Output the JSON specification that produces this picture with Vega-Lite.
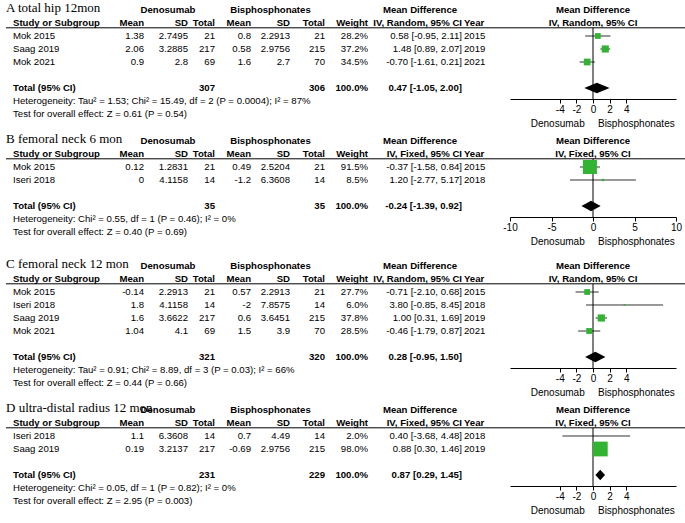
{
"$schema":"https://vega.github.io/schema/vega-lite/v6.json",
"padding":{"left":5,"top":0,"right":0,"bottom":0},
"background":"white",
"spacing":0,
"config":{"view":{"stroke":null},"text":{"font":"Liberation Sans","fontSize":9.6,"align":"right","baseline":"middle","fill":"black"},"rule":{"color":"black"},"area":{"color":"black"}},
"datasets":{
"A":[
{"r":0,"k":"t","study":"A total hip 12mon","dsd":"Denosumab","bsd":"Bisphosphonates","ci":"Mean Difference"},
{"r":1,"k":"h","study":"Study or Subgroup","dm":"Mean","dsd":"SD","dn":"Total","bm":"Mean","bsd":"SD","bn":"Total","w":"Weight","ci":"IV, Random, 95% CI","yr":"Year"},
{"r":2,"k":"s","study":"Mok 2015","dm":"1.38","dsd":"2.7495","dn":"21","bm":"0.8","bsd":"2.2913","bn":"21","w":"28.2%","ci":"0.58 [-0.95, 2.11]","yr":"2015","md":0.58,"lo":-0.95,"hi":2.11,"wt":28.2},
{"r":3,"k":"s","study":"Saag 2019","dm":"2.06","dsd":"3.2885","dn":"217","bm":"0.58","bsd":"2.9756","bn":"215","w":"37.2%","ci":"1.48 [0.89, 2.07]","yr":"2019","md":1.48,"lo":0.89,"hi":2.07,"wt":37.2},
{"r":4,"k":"s","study":"Mok 2021","dm":"0.9","dsd":"2.8","dn":"69","bm":"1.6","bsd":"2.7","bn":"70","w":"34.5%","ci":"-0.70 [-1.61, 0.21]","yr":"2021","md":-0.70,"lo":-1.61,"hi":0.21,"wt":34.5},
{"r":6,"k":"T","study":"Total (95% CI)","dn":"307","bn":"306","w":"100.0%","ci":"0.47 [-1.05, 2.00]","md":0.47,"lo":-1.05,"hi":2.00},
{"r":7,"k":"n","study":"Heterogeneity: Tau² = 1.53; Chi² = 15.49, df = 2 (P = 0.0004); I² = 87%"},
{"r":8,"k":"n","study":"Test for overall effect: Z = 0.61 (P = 0.54)"}
],
"B":[
{"r":0,"k":"t","study":"B femoral neck 6 mon","dsd":"Denosumab","bsd":"Bisphosphonates","ci":"Mean Difference"},
{"r":1,"k":"h","study":"Study or Subgroup","dm":"Mean","dsd":"SD","dn":"Total","bm":"Mean","bsd":"SD","bn":"Total","w":"Weight","ci":"IV, Fixed, 95% CI","yr":"Year"},
{"r":2,"k":"s","study":"Mok 2015","dm":"0.12","dsd":"1.2831","dn":"21","bm":"0.49","bsd":"2.5204","bn":"21","w":"91.5%","ci":"-0.37 [-1.58, 0.84]","yr":"2015","md":-0.37,"lo":-1.58,"hi":0.84,"wt":91.5},
{"r":3,"k":"s","study":"Iseri 2018","dm":"0","dsd":"4.1158","dn":"14","bm":"-1.2","bsd":"6.3608","bn":"14","w":"8.5%","ci":"1.20 [-2.77, 5.17]","yr":"2018","md":1.20,"lo":-2.77,"hi":5.17,"wt":8.5},
{"r":5,"k":"T","study":"Total (95% CI)","dn":"35","bn":"35","w":"100.0%","ci":"-0.24 [-1.39, 0.92]","md":-0.24,"lo":-1.39,"hi":0.92},
{"r":6,"k":"n","study":"Heterogeneity: Chi² = 0.55, df = 1 (P = 0.46); I² = 0%"},
{"r":7,"k":"n","study":"Test for overall effect: Z = 0.40 (P = 0.69)"}
],
"C":[
{"r":0,"k":"t","study":"C femoral neck 12 mon","dsd":"Denosumab","bsd":"Bisphosphonates","ci":"Mean Difference"},
{"r":1,"k":"h","study":"Study or Subgroup","dm":"Mean","dsd":"SD","dn":"Total","bm":"Mean","bsd":"SD","bn":"Total","w":"Weight","ci":"IV, Random, 95% CI","yr":"Year"},
{"r":2,"k":"s","study":"Mok 2015","dm":"-0.14","dsd":"2.2913","dn":"21","bm":"0.57","bsd":"2.2913","bn":"21","w":"27.7%","ci":"-0.71 [-2.10, 0.68]","yr":"2015","md":-0.71,"lo":-2.10,"hi":0.68,"wt":27.7},
{"r":3,"k":"s","study":"Iseri 2018","dm":"1.8","dsd":"4.1158","dn":"14","bm":"-2","bsd":"7.8575","bn":"14","w":"6.0%","ci":"3.80 [-0.85, 8.45]","yr":"2018","md":3.80,"lo":-0.85,"hi":8.45,"wt":6.0},
{"r":4,"k":"s","study":"Saag 2019","dm":"1.6","dsd":"3.6622","dn":"217","bm":"0.6","bsd":"3.6451","bn":"215","w":"37.8%","ci":"1.00 [0.31, 1.69]","yr":"2019","md":1.00,"lo":0.31,"hi":1.69,"wt":37.8},
{"r":5,"k":"s","study":"Mok 2021","dm":"1.04","dsd":"4.1","dn":"69","bm":"1.5","bsd":"3.9","bn":"70","w":"28.5%","ci":"-0.46 [-1.79, 0.87]","yr":"2021","md":-0.46,"lo":-1.79,"hi":0.87,"wt":28.5},
{"r":7,"k":"T","study":"Total (95% CI)","dn":"321","bn":"320","w":"100.0%","ci":"0.28 [-0.95, 1.50]","md":0.28,"lo":-0.95,"hi":1.50},
{"r":8,"k":"n","study":"Heterogeneity: Tau² = 0.91; Chi² = 8.89, df = 3 (P = 0.03); I² = 66%"},
{"r":9,"k":"n","study":"Test for overall effect: Z = 0.44 (P = 0.66)"}
],
"D":[
{"r":0,"k":"t","study":"D ultra-distal radius 12 mon","dsd":"Denosumab","bsd":"Bisphosphonates","ci":"Mean Difference"},
{"r":1,"k":"h","study":"Study or Subgroup","dm":"Mean","dsd":"SD","dn":"Total","bm":"Mean","bsd":"SD","bn":"Total","w":"Weight","ci":"IV, Fixed, 95% CI","yr":"Year"},
{"r":2,"k":"s","study":"Iseri 2018","dm":"1.1","dsd":"6.3608","dn":"14","bm":"0.7","bsd":"4.49","bn":"14","w":"2.0%","ci":"0.40 [-3.68, 4.48]","yr":"2018","md":0.40,"lo":-3.68,"hi":4.48,"wt":2.0},
{"r":3,"k":"s","study":"Saag 2019","dm":"0.19","dsd":"3.2137","dn":"217","bm":"-0.69","bsd":"2.9756","bn":"215","w":"98.0%","ci":"0.88 [0.30, 1.46]","yr":"2019","md":0.88,"lo":0.30,"hi":1.46,"wt":98.0},
{"r":5,"k":"T","study":"Total (95% CI)","dn":"231","bn":"229","w":"100.0%","ci":"0.87 [0.29, 1.45]","md":0.87,"lo":0.29,"hi":1.45},
{"r":6,"k":"n","study":"Heterogeneity: Chi² = 0.05, df = 1 (P = 0.82); I² = 0%"},
{"r":7,"k":"n","study":"Test for overall effect: Z = 2.95 (P = 0.003)"}
]
},
"vconcat":[
{"data":{"name":"A"},"spacing":0,"bounds":"flush","hconcat":[
{"width":107,"height":131,"encoding":{"x":{"datum":0,"type":"quantitative","scale":{"domain":[0,1]},"axis":null},"y":{"field":"r","type":"quantitative","scale":{"domain":[-0.769,9.308],"reverse":true},"axis":null},"text":{"field":"study","type":"nominal"}},"layer":[
{"transform":[{"filter":"datum.k=='s'||datum.k=='n'"}],"mark":{"type":"text","align":"left","dx":7}},
{"transform":[{"filter":"datum.k=='h'||datum.k=='T'"}],"mark":{"type":"text","align":"left","dx":7,"fontWeight":"bold"}},
{"transform":[{"filter":"datum.k=='t'"}],"mark":{"type":"text","align":"left","font":"Liberation Serif","fontSize":13,"dy":-2}},
{"transform":[{"filter":"datum.k=='h'"}],"mark":"rule","encoding":{"x":{"datum":0,"axis":null},"x2":{"datum":1},"y":{"datum":1.37,"axis":null}}}]},
{"width":31,"height":131,"encoding":{"x":{"datum":1,"type":"quantitative","scale":{"domain":[0,1]},"axis":null},"y":{"field":"r","type":"quantitative","scale":{"domain":[-0.769,9.308],"reverse":true},"axis":null},"text":{"field":"dm","type":"nominal"}},"layer":[
{"transform":[{"filter":"datum.k=='s'"}],"mark":"text"},
{"transform":[{"filter":"datum.k=='h'"}],"mark":{"type":"text","fontWeight":"bold"}},
{"transform":[{"filter":"datum.k=='h'"}],"mark":"rule","encoding":{"x":{"datum":0,"axis":null},"x2":{"datum":1},"y":{"datum":1.37,"axis":null}}}]},
{"width":44,"height":131,"encoding":{"x":{"datum":1,"type":"quantitative","scale":{"domain":[0,1]},"axis":null},"y":{"field":"r","type":"quantitative","scale":{"domain":[-0.769,9.308],"reverse":true},"axis":null},"text":{"field":"dsd","type":"nominal"}},"layer":[
{"transform":[{"filter":"datum.k=='s'"}],"mark":"text"},
{"transform":[{"filter":"datum.k=='h'"}],"mark":{"type":"text","fontWeight":"bold"}},
{"transform":[{"filter":"datum.k=='t'"}],"mark":{"type":"text","fontWeight":"bold","align":"center","dx":2},"encoding":{"x":{"datum":0.5,"axis":null}}},
{"transform":[{"filter":"datum.k=='h'"}],"mark":"rule","encoding":{"x":{"datum":0,"axis":null},"x2":{"datum":1},"y":{"datum":1.37,"axis":null}}}]},
{"width":27,"height":131,"encoding":{"x":{"datum":1,"type":"quantitative","scale":{"domain":[0,1]},"axis":null},"y":{"field":"r","type":"quantitative","scale":{"domain":[-0.769,9.308],"reverse":true},"axis":null},"text":{"field":"dn","type":"nominal"}},"layer":[
{"transform":[{"filter":"datum.k=='s'"}],"mark":"text"},
{"transform":[{"filter":"datum.k=='h'||datum.k=='T'"}],"mark":{"type":"text","fontWeight":"bold"}},
{"transform":[{"filter":"datum.k=='h'"}],"mark":"rule","encoding":{"x":{"datum":0,"axis":null},"x2":{"datum":1},"y":{"datum":1.37,"axis":null}}}]},
{"width":36,"height":131,"encoding":{"x":{"datum":1,"type":"quantitative","scale":{"domain":[0,1]},"axis":null},"y":{"field":"r","type":"quantitative","scale":{"domain":[-0.769,9.308],"reverse":true},"axis":null},"text":{"field":"bm","type":"nominal"}},"layer":[
{"transform":[{"filter":"datum.k=='s'"}],"mark":"text"},
{"transform":[{"filter":"datum.k=='h'"}],"mark":{"type":"text","fontWeight":"bold"}},
{"transform":[{"filter":"datum.k=='h'"}],"mark":"rule","encoding":{"x":{"datum":0,"axis":null},"x2":{"datum":1},"y":{"datum":1.37,"axis":null}}}]},
{"width":39,"height":131,"encoding":{"x":{"datum":1,"type":"quantitative","scale":{"domain":[0,1]},"axis":null},"y":{"field":"r","type":"quantitative","scale":{"domain":[-0.769,9.308],"reverse":true},"axis":null},"text":{"field":"bsd","type":"nominal"}},"layer":[
{"transform":[{"filter":"datum.k=='s'"}],"mark":"text"},
{"transform":[{"filter":"datum.k=='h'"}],"mark":{"type":"text","fontWeight":"bold"}},
{"transform":[{"filter":"datum.k=='t'"}],"mark":{"type":"text","fontWeight":"bold","align":"center"},"encoding":{"x":{"datum":0.5,"axis":null}}},
{"transform":[{"filter":"datum.k=='h'"}],"mark":"rule","encoding":{"x":{"datum":0,"axis":null},"x2":{"datum":1},"y":{"datum":1.37,"axis":null}}}]},
{"width":35,"height":131,"encoding":{"x":{"datum":1,"type":"quantitative","scale":{"domain":[0,1]},"axis":null},"y":{"field":"r","type":"quantitative","scale":{"domain":[-0.769,9.308],"reverse":true},"axis":null},"text":{"field":"bn","type":"nominal"}},"layer":[
{"transform":[{"filter":"datum.k=='s'"}],"mark":"text"},
{"transform":[{"filter":"datum.k=='h'||datum.k=='T'"}],"mark":{"type":"text","fontWeight":"bold"}},
{"transform":[{"filter":"datum.k=='h'"}],"mark":"rule","encoding":{"x":{"datum":0,"axis":null},"x2":{"datum":1},"y":{"datum":1.37,"axis":null}}}]},
{"width":43,"height":131,"encoding":{"x":{"datum":1,"type":"quantitative","scale":{"domain":[0,1]},"axis":null},"y":{"field":"r","type":"quantitative","scale":{"domain":[-0.769,9.308],"reverse":true},"axis":null},"text":{"field":"w","type":"nominal"}},"layer":[
{"transform":[{"filter":"datum.k=='s'"}],"mark":"text"},
{"transform":[{"filter":"datum.k=='h'||datum.k=='T'"}],"mark":{"type":"text","fontWeight":"bold"}},
{"transform":[{"filter":"datum.k=='h'"}],"mark":"rule","encoding":{"x":{"datum":0,"axis":null},"x2":{"datum":1},"y":{"datum":1.37,"axis":null}}}]},
{"width":94,"height":131,"encoding":{"x":{"datum":1,"type":"quantitative","scale":{"domain":[0,1]},"axis":null},"y":{"field":"r","type":"quantitative","scale":{"domain":[-0.769,9.308],"reverse":true},"axis":null},"text":{"field":"ci","type":"nominal"}},"layer":[
{"transform":[{"filter":"datum.k=='s'"}],"mark":"text"},
{"transform":[{"filter":"datum.k=='h'||datum.k=='T'"}],"mark":{"type":"text","fontWeight":"bold"}},
{"transform":[{"filter":"datum.k=='t'"}],"mark":{"type":"text","fontWeight":"bold","align":"center","dx":5},"encoding":{"x":{"datum":0.5,"axis":null}}},
{"transform":[{"filter":"datum.k=='h'"}],"mark":"rule","encoding":{"x":{"datum":0,"axis":null},"x2":{"datum":1},"y":{"datum":1.37,"axis":null}}}]},
{"width":48,"height":131,"encoding":{"x":{"datum":0,"type":"quantitative","scale":{"domain":[0,1]},"axis":null},"y":{"field":"r","type":"quantitative","scale":{"domain":[-0.769,9.308],"reverse":true},"axis":null},"text":{"field":"yr","type":"nominal"}},"layer":[
{"transform":[{"filter":"datum.k=='s'"}],"mark":{"type":"text","align":"left","dx":2}},
{"transform":[{"filter":"datum.k=='h'"}],"mark":{"type":"text","align":"left","dx":2,"fontWeight":"bold"}},
{"transform":[{"filter":"datum.k=='h'"}],"mark":"rule","encoding":{"x":{"datum":0,"axis":null},"x2":{"datum":1},"y":{"datum":1.37,"axis":null}}}]},
{"width":166,"height":99,"encoding":{"y":{"field":"r","type":"quantitative","scale":{"domain":[-0.769,6.846],"reverse":true},"axis":null}},"layer":[
{"transform":[{"filter":"datum.k=='s'"}],"mark":{"type":"rule","color":"#333"},"encoding":{"x":{"field":"lo","type":"quantitative","scale":{"domain":[-10,10],"nice":false,"zero":false},"axis":{"values":[-4,-2,0,2,4],"labelExpr":"replace(datum.label,'\u2212','-')","title":null,"grid":false,"domainColor":"black","tickColor":"black","labelColor":"black","labelFont":"Liberation Sans","labelFontSize":10,"tickSize":4,"labelPadding":1,"labelFlush":false}},"x2":{"field":"hi"}}},
{"transform":[{"filter":"datum.k=='h'"}],"mark":"rule","encoding":{"x":{"datum":-10},"x2":{"datum":11.2},"y":{"datum":1.37,"axis":null}}},
{"transform":[{"filter":"datum.k=='h'"}],"mark":"rule","encoding":{"x":{"datum":0},"y":{"datum":1.37,"axis":null},"y2":{"datum":6.846}}},
{"transform":[{"filter":"datum.k=='s'"}],"mark":{"type":"point","shape":"square","filled":true,"opacity":1,"color":"#32b432"},"encoding":{"x":{"field":"md","type":"quantitative"},"size":{"field":"wt","type":"quantitative","scale":{"type":"pow","exponent":1.5,"domain":[0,100],"range":[0,225]},"legend":null}}},
{"transform":[{"filter":"datum.k=='T'"},{"fold":["lo","md","hi"],"as":["key","val"]},{"calculate":"datum.key=='md'?0.4:0","as":"h"},{"calculate":"datum.r-datum.h","as":"ya"},{"calculate":"datum.r+datum.h","as":"yb"}],"mark":{"type":"area","color":"black"},"encoding":{"x":{"field":"val","type":"quantitative"},"y":{"field":"ya","type":"quantitative","axis":null},"y2":{"field":"yb"}}},
{"transform":[{"filter":"datum.k=='t'||datum.k=='h'"}],"mark":{"type":"text","fontWeight":"bold","align":"center"},"encoding":{"x":{"datum":0},"text":{"field":"ci","type":"nominal"}}},
{"transform":[{"filter":"datum.k=='h'"}],"mark":{"type":"text","text":"Denosumab","fontSize":10},"encoding":{"x":{"datum":-1},"y":{"datum":8.77,"axis":null}}},
{"transform":[{"filter":"datum.k=='h'"}],"mark":{"type":"text","text":"Bisphosphonates","align":"left","fontSize":10},"encoding":{"x":{"datum":0.6},"y":{"datum":8.77,"axis":null}}}]}
]},
{"data":{"name":"B"},"spacing":0,"bounds":"flush","hconcat":[
{"width":107,"height":125,"encoding":{"x":{"datum":0,"type":"quantitative","scale":{"domain":[0,1]},"axis":null},"y":{"field":"r","type":"quantitative","scale":{"domain":[-0.769,8.846],"reverse":true},"axis":null},"text":{"field":"study","type":"nominal"}},"layer":[
{"transform":[{"filter":"datum.k=='s'||datum.k=='n'"}],"mark":{"type":"text","align":"left","dx":7}},
{"transform":[{"filter":"datum.k=='h'||datum.k=='T'"}],"mark":{"type":"text","align":"left","dx":7,"fontWeight":"bold"}},
{"transform":[{"filter":"datum.k=='t'"}],"mark":{"type":"text","align":"left","font":"Liberation Serif","fontSize":13,"dy":-2}},
{"transform":[{"filter":"datum.k=='h'"}],"mark":"rule","encoding":{"x":{"datum":0,"axis":null},"x2":{"datum":1},"y":{"datum":1.37,"axis":null}}}]},
{"width":31,"height":125,"encoding":{"x":{"datum":1,"type":"quantitative","scale":{"domain":[0,1]},"axis":null},"y":{"field":"r","type":"quantitative","scale":{"domain":[-0.769,8.846],"reverse":true},"axis":null},"text":{"field":"dm","type":"nominal"}},"layer":[
{"transform":[{"filter":"datum.k=='s'"}],"mark":"text"},
{"transform":[{"filter":"datum.k=='h'"}],"mark":{"type":"text","fontWeight":"bold"}},
{"transform":[{"filter":"datum.k=='h'"}],"mark":"rule","encoding":{"x":{"datum":0,"axis":null},"x2":{"datum":1},"y":{"datum":1.37,"axis":null}}}]},
{"width":44,"height":125,"encoding":{"x":{"datum":1,"type":"quantitative","scale":{"domain":[0,1]},"axis":null},"y":{"field":"r","type":"quantitative","scale":{"domain":[-0.769,8.846],"reverse":true},"axis":null},"text":{"field":"dsd","type":"nominal"}},"layer":[
{"transform":[{"filter":"datum.k=='s'"}],"mark":"text"},
{"transform":[{"filter":"datum.k=='h'"}],"mark":{"type":"text","fontWeight":"bold"}},
{"transform":[{"filter":"datum.k=='t'"}],"mark":{"type":"text","fontWeight":"bold","align":"center","dx":2},"encoding":{"x":{"datum":0.5,"axis":null}}},
{"transform":[{"filter":"datum.k=='h'"}],"mark":"rule","encoding":{"x":{"datum":0,"axis":null},"x2":{"datum":1},"y":{"datum":1.37,"axis":null}}}]},
{"width":27,"height":125,"encoding":{"x":{"datum":1,"type":"quantitative","scale":{"domain":[0,1]},"axis":null},"y":{"field":"r","type":"quantitative","scale":{"domain":[-0.769,8.846],"reverse":true},"axis":null},"text":{"field":"dn","type":"nominal"}},"layer":[
{"transform":[{"filter":"datum.k=='s'"}],"mark":"text"},
{"transform":[{"filter":"datum.k=='h'||datum.k=='T'"}],"mark":{"type":"text","fontWeight":"bold"}},
{"transform":[{"filter":"datum.k=='h'"}],"mark":"rule","encoding":{"x":{"datum":0,"axis":null},"x2":{"datum":1},"y":{"datum":1.37,"axis":null}}}]},
{"width":36,"height":125,"encoding":{"x":{"datum":1,"type":"quantitative","scale":{"domain":[0,1]},"axis":null},"y":{"field":"r","type":"quantitative","scale":{"domain":[-0.769,8.846],"reverse":true},"axis":null},"text":{"field":"bm","type":"nominal"}},"layer":[
{"transform":[{"filter":"datum.k=='s'"}],"mark":"text"},
{"transform":[{"filter":"datum.k=='h'"}],"mark":{"type":"text","fontWeight":"bold"}},
{"transform":[{"filter":"datum.k=='h'"}],"mark":"rule","encoding":{"x":{"datum":0,"axis":null},"x2":{"datum":1},"y":{"datum":1.37,"axis":null}}}]},
{"width":39,"height":125,"encoding":{"x":{"datum":1,"type":"quantitative","scale":{"domain":[0,1]},"axis":null},"y":{"field":"r","type":"quantitative","scale":{"domain":[-0.769,8.846],"reverse":true},"axis":null},"text":{"field":"bsd","type":"nominal"}},"layer":[
{"transform":[{"filter":"datum.k=='s'"}],"mark":"text"},
{"transform":[{"filter":"datum.k=='h'"}],"mark":{"type":"text","fontWeight":"bold"}},
{"transform":[{"filter":"datum.k=='t'"}],"mark":{"type":"text","fontWeight":"bold","align":"center"},"encoding":{"x":{"datum":0.5,"axis":null}}},
{"transform":[{"filter":"datum.k=='h'"}],"mark":"rule","encoding":{"x":{"datum":0,"axis":null},"x2":{"datum":1},"y":{"datum":1.37,"axis":null}}}]},
{"width":35,"height":125,"encoding":{"x":{"datum":1,"type":"quantitative","scale":{"domain":[0,1]},"axis":null},"y":{"field":"r","type":"quantitative","scale":{"domain":[-0.769,8.846],"reverse":true},"axis":null},"text":{"field":"bn","type":"nominal"}},"layer":[
{"transform":[{"filter":"datum.k=='s'"}],"mark":"text"},
{"transform":[{"filter":"datum.k=='h'||datum.k=='T'"}],"mark":{"type":"text","fontWeight":"bold"}},
{"transform":[{"filter":"datum.k=='h'"}],"mark":"rule","encoding":{"x":{"datum":0,"axis":null},"x2":{"datum":1},"y":{"datum":1.37,"axis":null}}}]},
{"width":43,"height":125,"encoding":{"x":{"datum":1,"type":"quantitative","scale":{"domain":[0,1]},"axis":null},"y":{"field":"r","type":"quantitative","scale":{"domain":[-0.769,8.846],"reverse":true},"axis":null},"text":{"field":"w","type":"nominal"}},"layer":[
{"transform":[{"filter":"datum.k=='s'"}],"mark":"text"},
{"transform":[{"filter":"datum.k=='h'||datum.k=='T'"}],"mark":{"type":"text","fontWeight":"bold"}},
{"transform":[{"filter":"datum.k=='h'"}],"mark":"rule","encoding":{"x":{"datum":0,"axis":null},"x2":{"datum":1},"y":{"datum":1.37,"axis":null}}}]},
{"width":94,"height":125,"encoding":{"x":{"datum":1,"type":"quantitative","scale":{"domain":[0,1]},"axis":null},"y":{"field":"r","type":"quantitative","scale":{"domain":[-0.769,8.846],"reverse":true},"axis":null},"text":{"field":"ci","type":"nominal"}},"layer":[
{"transform":[{"filter":"datum.k=='s'"}],"mark":"text"},
{"transform":[{"filter":"datum.k=='h'||datum.k=='T'"}],"mark":{"type":"text","fontWeight":"bold"}},
{"transform":[{"filter":"datum.k=='t'"}],"mark":{"type":"text","fontWeight":"bold","align":"center","dx":5},"encoding":{"x":{"datum":0.5,"axis":null}}},
{"transform":[{"filter":"datum.k=='h'"}],"mark":"rule","encoding":{"x":{"datum":0,"axis":null},"x2":{"datum":1},"y":{"datum":1.37,"axis":null}}}]},
{"width":48,"height":125,"encoding":{"x":{"datum":0,"type":"quantitative","scale":{"domain":[0,1]},"axis":null},"y":{"field":"r","type":"quantitative","scale":{"domain":[-0.769,8.846],"reverse":true},"axis":null},"text":{"field":"yr","type":"nominal"}},"layer":[
{"transform":[{"filter":"datum.k=='s'"}],"mark":{"type":"text","align":"left","dx":2}},
{"transform":[{"filter":"datum.k=='h'"}],"mark":{"type":"text","align":"left","dx":2,"fontWeight":"bold"}},
{"transform":[{"filter":"datum.k=='h'"}],"mark":"rule","encoding":{"x":{"datum":0,"axis":null},"x2":{"datum":1},"y":{"datum":1.37,"axis":null}}}]},
{"width":166,"height":86,"encoding":{"y":{"field":"r","type":"quantitative","scale":{"domain":[-0.769,5.846],"reverse":true},"axis":null}},"layer":[
{"transform":[{"filter":"datum.k=='s'"}],"mark":{"type":"rule","color":"#333"},"encoding":{"x":{"field":"lo","type":"quantitative","scale":{"domain":[-10,10],"nice":false,"zero":false},"axis":{"values":[-10,-5,0,5,10],"labelExpr":"replace(datum.label,'\u2212','-')","title":null,"grid":false,"domainColor":"black","tickColor":"black","labelColor":"black","labelFont":"Liberation Sans","labelFontSize":10,"tickSize":4,"labelPadding":1,"labelFlush":false}},"x2":{"field":"hi"}}},
{"transform":[{"filter":"datum.k=='h'"}],"mark":"rule","encoding":{"x":{"datum":-10},"x2":{"datum":11.2},"y":{"datum":1.37,"axis":null}}},
{"transform":[{"filter":"datum.k=='h'"}],"mark":"rule","encoding":{"x":{"datum":0},"y":{"datum":1.37,"axis":null},"y2":{"datum":5.846}}},
{"transform":[{"filter":"datum.k=='s'"}],"mark":{"type":"point","shape":"square","filled":true,"opacity":1,"color":"#32b432"},"encoding":{"x":{"field":"md","type":"quantitative"},"size":{"field":"wt","type":"quantitative","scale":{"type":"pow","exponent":1.5,"domain":[0,100],"range":[0,225]},"legend":null}}},
{"transform":[{"filter":"datum.k=='T'"},{"fold":["lo","md","hi"],"as":["key","val"]},{"calculate":"datum.key=='md'?0.4:0","as":"h"},{"calculate":"datum.r-datum.h","as":"ya"},{"calculate":"datum.r+datum.h","as":"yb"}],"mark":{"type":"area","color":"black"},"encoding":{"x":{"field":"val","type":"quantitative"},"y":{"field":"ya","type":"quantitative","axis":null},"y2":{"field":"yb"}}},
{"transform":[{"filter":"datum.k=='t'||datum.k=='h'"}],"mark":{"type":"text","fontWeight":"bold","align":"center"},"encoding":{"x":{"datum":0},"text":{"field":"ci","type":"nominal"}}},
{"transform":[{"filter":"datum.k=='h'"}],"mark":{"type":"text","text":"Denosumab","fontSize":10},"encoding":{"x":{"datum":-1},"y":{"datum":7.77,"axis":null}}},
{"transform":[{"filter":"datum.k=='h'"}],"mark":{"type":"text","text":"Bisphosphonates","align":"left","fontSize":10},"encoding":{"x":{"datum":0.6},"y":{"datum":7.77,"axis":null}}}]}
]},
{"data":{"name":"C"},"spacing":0,"bounds":"flush","hconcat":[
{"width":107,"height":144,"encoding":{"x":{"datum":0,"type":"quantitative","scale":{"domain":[0,1]},"axis":null},"y":{"field":"r","type":"quantitative","scale":{"domain":[-0.769,10.308],"reverse":true},"axis":null},"text":{"field":"study","type":"nominal"}},"layer":[
{"transform":[{"filter":"datum.k=='s'||datum.k=='n'"}],"mark":{"type":"text","align":"left","dx":7}},
{"transform":[{"filter":"datum.k=='h'||datum.k=='T'"}],"mark":{"type":"text","align":"left","dx":7,"fontWeight":"bold"}},
{"transform":[{"filter":"datum.k=='t'"}],"mark":{"type":"text","align":"left","font":"Liberation Serif","fontSize":13,"dy":-2}},
{"transform":[{"filter":"datum.k=='h'"}],"mark":"rule","encoding":{"x":{"datum":0,"axis":null},"x2":{"datum":1},"y":{"datum":1.37,"axis":null}}}]},
{"width":31,"height":144,"encoding":{"x":{"datum":1,"type":"quantitative","scale":{"domain":[0,1]},"axis":null},"y":{"field":"r","type":"quantitative","scale":{"domain":[-0.769,10.308],"reverse":true},"axis":null},"text":{"field":"dm","type":"nominal"}},"layer":[
{"transform":[{"filter":"datum.k=='s'"}],"mark":"text"},
{"transform":[{"filter":"datum.k=='h'"}],"mark":{"type":"text","fontWeight":"bold"}},
{"transform":[{"filter":"datum.k=='h'"}],"mark":"rule","encoding":{"x":{"datum":0,"axis":null},"x2":{"datum":1},"y":{"datum":1.37,"axis":null}}}]},
{"width":44,"height":144,"encoding":{"x":{"datum":1,"type":"quantitative","scale":{"domain":[0,1]},"axis":null},"y":{"field":"r","type":"quantitative","scale":{"domain":[-0.769,10.308],"reverse":true},"axis":null},"text":{"field":"dsd","type":"nominal"}},"layer":[
{"transform":[{"filter":"datum.k=='s'"}],"mark":"text"},
{"transform":[{"filter":"datum.k=='h'"}],"mark":{"type":"text","fontWeight":"bold"}},
{"transform":[{"filter":"datum.k=='t'"}],"mark":{"type":"text","fontWeight":"bold","align":"center","dx":2},"encoding":{"x":{"datum":0.5,"axis":null}}},
{"transform":[{"filter":"datum.k=='h'"}],"mark":"rule","encoding":{"x":{"datum":0,"axis":null},"x2":{"datum":1},"y":{"datum":1.37,"axis":null}}}]},
{"width":27,"height":144,"encoding":{"x":{"datum":1,"type":"quantitative","scale":{"domain":[0,1]},"axis":null},"y":{"field":"r","type":"quantitative","scale":{"domain":[-0.769,10.308],"reverse":true},"axis":null},"text":{"field":"dn","type":"nominal"}},"layer":[
{"transform":[{"filter":"datum.k=='s'"}],"mark":"text"},
{"transform":[{"filter":"datum.k=='h'||datum.k=='T'"}],"mark":{"type":"text","fontWeight":"bold"}},
{"transform":[{"filter":"datum.k=='h'"}],"mark":"rule","encoding":{"x":{"datum":0,"axis":null},"x2":{"datum":1},"y":{"datum":1.37,"axis":null}}}]},
{"width":36,"height":144,"encoding":{"x":{"datum":1,"type":"quantitative","scale":{"domain":[0,1]},"axis":null},"y":{"field":"r","type":"quantitative","scale":{"domain":[-0.769,10.308],"reverse":true},"axis":null},"text":{"field":"bm","type":"nominal"}},"layer":[
{"transform":[{"filter":"datum.k=='s'"}],"mark":"text"},
{"transform":[{"filter":"datum.k=='h'"}],"mark":{"type":"text","fontWeight":"bold"}},
{"transform":[{"filter":"datum.k=='h'"}],"mark":"rule","encoding":{"x":{"datum":0,"axis":null},"x2":{"datum":1},"y":{"datum":1.37,"axis":null}}}]},
{"width":39,"height":144,"encoding":{"x":{"datum":1,"type":"quantitative","scale":{"domain":[0,1]},"axis":null},"y":{"field":"r","type":"quantitative","scale":{"domain":[-0.769,10.308],"reverse":true},"axis":null},"text":{"field":"bsd","type":"nominal"}},"layer":[
{"transform":[{"filter":"datum.k=='s'"}],"mark":"text"},
{"transform":[{"filter":"datum.k=='h'"}],"mark":{"type":"text","fontWeight":"bold"}},
{"transform":[{"filter":"datum.k=='t'"}],"mark":{"type":"text","fontWeight":"bold","align":"center"},"encoding":{"x":{"datum":0.5,"axis":null}}},
{"transform":[{"filter":"datum.k=='h'"}],"mark":"rule","encoding":{"x":{"datum":0,"axis":null},"x2":{"datum":1},"y":{"datum":1.37,"axis":null}}}]},
{"width":35,"height":144,"encoding":{"x":{"datum":1,"type":"quantitative","scale":{"domain":[0,1]},"axis":null},"y":{"field":"r","type":"quantitative","scale":{"domain":[-0.769,10.308],"reverse":true},"axis":null},"text":{"field":"bn","type":"nominal"}},"layer":[
{"transform":[{"filter":"datum.k=='s'"}],"mark":"text"},
{"transform":[{"filter":"datum.k=='h'||datum.k=='T'"}],"mark":{"type":"text","fontWeight":"bold"}},
{"transform":[{"filter":"datum.k=='h'"}],"mark":"rule","encoding":{"x":{"datum":0,"axis":null},"x2":{"datum":1},"y":{"datum":1.37,"axis":null}}}]},
{"width":43,"height":144,"encoding":{"x":{"datum":1,"type":"quantitative","scale":{"domain":[0,1]},"axis":null},"y":{"field":"r","type":"quantitative","scale":{"domain":[-0.769,10.308],"reverse":true},"axis":null},"text":{"field":"w","type":"nominal"}},"layer":[
{"transform":[{"filter":"datum.k=='s'"}],"mark":"text"},
{"transform":[{"filter":"datum.k=='h'||datum.k=='T'"}],"mark":{"type":"text","fontWeight":"bold"}},
{"transform":[{"filter":"datum.k=='h'"}],"mark":"rule","encoding":{"x":{"datum":0,"axis":null},"x2":{"datum":1},"y":{"datum":1.37,"axis":null}}}]},
{"width":94,"height":144,"encoding":{"x":{"datum":1,"type":"quantitative","scale":{"domain":[0,1]},"axis":null},"y":{"field":"r","type":"quantitative","scale":{"domain":[-0.769,10.308],"reverse":true},"axis":null},"text":{"field":"ci","type":"nominal"}},"layer":[
{"transform":[{"filter":"datum.k=='s'"}],"mark":"text"},
{"transform":[{"filter":"datum.k=='h'||datum.k=='T'"}],"mark":{"type":"text","fontWeight":"bold"}},
{"transform":[{"filter":"datum.k=='t'"}],"mark":{"type":"text","fontWeight":"bold","align":"center","dx":5},"encoding":{"x":{"datum":0.5,"axis":null}}},
{"transform":[{"filter":"datum.k=='h'"}],"mark":"rule","encoding":{"x":{"datum":0,"axis":null},"x2":{"datum":1},"y":{"datum":1.37,"axis":null}}}]},
{"width":48,"height":144,"encoding":{"x":{"datum":0,"type":"quantitative","scale":{"domain":[0,1]},"axis":null},"y":{"field":"r","type":"quantitative","scale":{"domain":[-0.769,10.308],"reverse":true},"axis":null},"text":{"field":"yr","type":"nominal"}},"layer":[
{"transform":[{"filter":"datum.k=='s'"}],"mark":{"type":"text","align":"left","dx":2}},
{"transform":[{"filter":"datum.k=='h'"}],"mark":{"type":"text","align":"left","dx":2,"fontWeight":"bold"}},
{"transform":[{"filter":"datum.k=='h'"}],"mark":"rule","encoding":{"x":{"datum":0,"axis":null},"x2":{"datum":1},"y":{"datum":1.37,"axis":null}}}]},
{"width":166,"height":112,"encoding":{"y":{"field":"r","type":"quantitative","scale":{"domain":[-0.769,7.846],"reverse":true},"axis":null}},"layer":[
{"transform":[{"filter":"datum.k=='s'"}],"mark":{"type":"rule","color":"#333"},"encoding":{"x":{"field":"lo","type":"quantitative","scale":{"domain":[-10,10],"nice":false,"zero":false},"axis":{"values":[-4,-2,0,2,4],"labelExpr":"replace(datum.label,'\u2212','-')","title":null,"grid":false,"domainColor":"black","tickColor":"black","labelColor":"black","labelFont":"Liberation Sans","labelFontSize":10,"tickSize":4,"labelPadding":1,"labelFlush":false}},"x2":{"field":"hi"}}},
{"transform":[{"filter":"datum.k=='h'"}],"mark":"rule","encoding":{"x":{"datum":-10},"x2":{"datum":11.2},"y":{"datum":1.37,"axis":null}}},
{"transform":[{"filter":"datum.k=='h'"}],"mark":"rule","encoding":{"x":{"datum":0},"y":{"datum":1.37,"axis":null},"y2":{"datum":7.846}}},
{"transform":[{"filter":"datum.k=='s'"}],"mark":{"type":"point","shape":"square","filled":true,"opacity":1,"color":"#32b432"},"encoding":{"x":{"field":"md","type":"quantitative"},"size":{"field":"wt","type":"quantitative","scale":{"type":"pow","exponent":1.5,"domain":[0,100],"range":[0,225]},"legend":null}}},
{"transform":[{"filter":"datum.k=='T'"},{"fold":["lo","md","hi"],"as":["key","val"]},{"calculate":"datum.key=='md'?0.4:0","as":"h"},{"calculate":"datum.r-datum.h","as":"ya"},{"calculate":"datum.r+datum.h","as":"yb"}],"mark":{"type":"area","color":"black"},"encoding":{"x":{"field":"val","type":"quantitative"},"y":{"field":"ya","type":"quantitative","axis":null},"y2":{"field":"yb"}}},
{"transform":[{"filter":"datum.k=='t'||datum.k=='h'"}],"mark":{"type":"text","fontWeight":"bold","align":"center"},"encoding":{"x":{"datum":0},"text":{"field":"ci","type":"nominal"}}},
{"transform":[{"filter":"datum.k=='h'"}],"mark":{"type":"text","text":"Denosumab","fontSize":10},"encoding":{"x":{"datum":-1},"y":{"datum":9.77,"axis":null}}},
{"transform":[{"filter":"datum.k=='h'"}],"mark":{"type":"text","text":"Bisphosphonates","align":"left","fontSize":10},"encoding":{"x":{"datum":0.6},"y":{"datum":9.77,"axis":null}}}]}
]},
{"data":{"name":"D"},"spacing":0,"bounds":"flush","hconcat":[
{"width":107,"height":123,"encoding":{"x":{"datum":0,"type":"quantitative","scale":{"domain":[0,1]},"axis":null},"y":{"field":"r","type":"quantitative","scale":{"domain":[-0.769,8.692],"reverse":true},"axis":null},"text":{"field":"study","type":"nominal"}},"layer":[
{"transform":[{"filter":"datum.k=='s'||datum.k=='n'"}],"mark":{"type":"text","align":"left","dx":7}},
{"transform":[{"filter":"datum.k=='h'||datum.k=='T'"}],"mark":{"type":"text","align":"left","dx":7,"fontWeight":"bold"}},
{"transform":[{"filter":"datum.k=='t'"}],"mark":{"type":"text","align":"left","font":"Liberation Serif","fontSize":13,"dy":-2}},
{"transform":[{"filter":"datum.k=='h'"}],"mark":"rule","encoding":{"x":{"datum":0,"axis":null},"x2":{"datum":1},"y":{"datum":1.37,"axis":null}}}]},
{"width":31,"height":123,"encoding":{"x":{"datum":1,"type":"quantitative","scale":{"domain":[0,1]},"axis":null},"y":{"field":"r","type":"quantitative","scale":{"domain":[-0.769,8.692],"reverse":true},"axis":null},"text":{"field":"dm","type":"nominal"}},"layer":[
{"transform":[{"filter":"datum.k=='s'"}],"mark":"text"},
{"transform":[{"filter":"datum.k=='h'"}],"mark":{"type":"text","fontWeight":"bold"}},
{"transform":[{"filter":"datum.k=='h'"}],"mark":"rule","encoding":{"x":{"datum":0,"axis":null},"x2":{"datum":1},"y":{"datum":1.37,"axis":null}}}]},
{"width":44,"height":123,"encoding":{"x":{"datum":1,"type":"quantitative","scale":{"domain":[0,1]},"axis":null},"y":{"field":"r","type":"quantitative","scale":{"domain":[-0.769,8.692],"reverse":true},"axis":null},"text":{"field":"dsd","type":"nominal"}},"layer":[
{"transform":[{"filter":"datum.k=='s'"}],"mark":"text"},
{"transform":[{"filter":"datum.k=='h'"}],"mark":{"type":"text","fontWeight":"bold"}},
{"transform":[{"filter":"datum.k=='t'"}],"mark":{"type":"text","fontWeight":"bold","align":"center","dx":2},"encoding":{"x":{"datum":0.5,"axis":null}}},
{"transform":[{"filter":"datum.k=='h'"}],"mark":"rule","encoding":{"x":{"datum":0,"axis":null},"x2":{"datum":1},"y":{"datum":1.37,"axis":null}}}]},
{"width":27,"height":123,"encoding":{"x":{"datum":1,"type":"quantitative","scale":{"domain":[0,1]},"axis":null},"y":{"field":"r","type":"quantitative","scale":{"domain":[-0.769,8.692],"reverse":true},"axis":null},"text":{"field":"dn","type":"nominal"}},"layer":[
{"transform":[{"filter":"datum.k=='s'"}],"mark":"text"},
{"transform":[{"filter":"datum.k=='h'||datum.k=='T'"}],"mark":{"type":"text","fontWeight":"bold"}},
{"transform":[{"filter":"datum.k=='h'"}],"mark":"rule","encoding":{"x":{"datum":0,"axis":null},"x2":{"datum":1},"y":{"datum":1.37,"axis":null}}}]},
{"width":36,"height":123,"encoding":{"x":{"datum":1,"type":"quantitative","scale":{"domain":[0,1]},"axis":null},"y":{"field":"r","type":"quantitative","scale":{"domain":[-0.769,8.692],"reverse":true},"axis":null},"text":{"field":"bm","type":"nominal"}},"layer":[
{"transform":[{"filter":"datum.k=='s'"}],"mark":"text"},
{"transform":[{"filter":"datum.k=='h'"}],"mark":{"type":"text","fontWeight":"bold"}},
{"transform":[{"filter":"datum.k=='h'"}],"mark":"rule","encoding":{"x":{"datum":0,"axis":null},"x2":{"datum":1},"y":{"datum":1.37,"axis":null}}}]},
{"width":39,"height":123,"encoding":{"x":{"datum":1,"type":"quantitative","scale":{"domain":[0,1]},"axis":null},"y":{"field":"r","type":"quantitative","scale":{"domain":[-0.769,8.692],"reverse":true},"axis":null},"text":{"field":"bsd","type":"nominal"}},"layer":[
{"transform":[{"filter":"datum.k=='s'"}],"mark":"text"},
{"transform":[{"filter":"datum.k=='h'"}],"mark":{"type":"text","fontWeight":"bold"}},
{"transform":[{"filter":"datum.k=='t'"}],"mark":{"type":"text","fontWeight":"bold","align":"center"},"encoding":{"x":{"datum":0.5,"axis":null}}},
{"transform":[{"filter":"datum.k=='h'"}],"mark":"rule","encoding":{"x":{"datum":0,"axis":null},"x2":{"datum":1},"y":{"datum":1.37,"axis":null}}}]},
{"width":35,"height":123,"encoding":{"x":{"datum":1,"type":"quantitative","scale":{"domain":[0,1]},"axis":null},"y":{"field":"r","type":"quantitative","scale":{"domain":[-0.769,8.692],"reverse":true},"axis":null},"text":{"field":"bn","type":"nominal"}},"layer":[
{"transform":[{"filter":"datum.k=='s'"}],"mark":"text"},
{"transform":[{"filter":"datum.k=='h'||datum.k=='T'"}],"mark":{"type":"text","fontWeight":"bold"}},
{"transform":[{"filter":"datum.k=='h'"}],"mark":"rule","encoding":{"x":{"datum":0,"axis":null},"x2":{"datum":1},"y":{"datum":1.37,"axis":null}}}]},
{"width":43,"height":123,"encoding":{"x":{"datum":1,"type":"quantitative","scale":{"domain":[0,1]},"axis":null},"y":{"field":"r","type":"quantitative","scale":{"domain":[-0.769,8.692],"reverse":true},"axis":null},"text":{"field":"w","type":"nominal"}},"layer":[
{"transform":[{"filter":"datum.k=='s'"}],"mark":"text"},
{"transform":[{"filter":"datum.k=='h'||datum.k=='T'"}],"mark":{"type":"text","fontWeight":"bold"}},
{"transform":[{"filter":"datum.k=='h'"}],"mark":"rule","encoding":{"x":{"datum":0,"axis":null},"x2":{"datum":1},"y":{"datum":1.37,"axis":null}}}]},
{"width":94,"height":123,"encoding":{"x":{"datum":1,"type":"quantitative","scale":{"domain":[0,1]},"axis":null},"y":{"field":"r","type":"quantitative","scale":{"domain":[-0.769,8.692],"reverse":true},"axis":null},"text":{"field":"ci","type":"nominal"}},"layer":[
{"transform":[{"filter":"datum.k=='s'"}],"mark":"text"},
{"transform":[{"filter":"datum.k=='h'||datum.k=='T'"}],"mark":{"type":"text","fontWeight":"bold"}},
{"transform":[{"filter":"datum.k=='t'"}],"mark":{"type":"text","fontWeight":"bold","align":"center","dx":5},"encoding":{"x":{"datum":0.5,"axis":null}}},
{"transform":[{"filter":"datum.k=='h'"}],"mark":"rule","encoding":{"x":{"datum":0,"axis":null},"x2":{"datum":1},"y":{"datum":1.37,"axis":null}}}]},
{"width":48,"height":123,"encoding":{"x":{"datum":0,"type":"quantitative","scale":{"domain":[0,1]},"axis":null},"y":{"field":"r","type":"quantitative","scale":{"domain":[-0.769,8.692],"reverse":true},"axis":null},"text":{"field":"yr","type":"nominal"}},"layer":[
{"transform":[{"filter":"datum.k=='s'"}],"mark":{"type":"text","align":"left","dx":2}},
{"transform":[{"filter":"datum.k=='h'"}],"mark":{"type":"text","align":"left","dx":2,"fontWeight":"bold"}},
{"transform":[{"filter":"datum.k=='h'"}],"mark":"rule","encoding":{"x":{"datum":0,"axis":null},"x2":{"datum":1},"y":{"datum":1.37,"axis":null}}}]},
{"width":166,"height":86,"encoding":{"y":{"field":"r","type":"quantitative","scale":{"domain":[-0.769,5.846],"reverse":true},"axis":null}},"layer":[
{"transform":[{"filter":"datum.k=='s'"}],"mark":{"type":"rule","color":"#333"},"encoding":{"x":{"field":"lo","type":"quantitative","scale":{"domain":[-10,10],"nice":false,"zero":false},"axis":{"values":[-4,-2,0,2,4],"labelExpr":"replace(datum.label,'\u2212','-')","title":null,"grid":false,"domainColor":"black","tickColor":"black","labelColor":"black","labelFont":"Liberation Sans","labelFontSize":10,"tickSize":4,"labelPadding":1,"labelFlush":false}},"x2":{"field":"hi"}}},
{"transform":[{"filter":"datum.k=='h'"}],"mark":"rule","encoding":{"x":{"datum":-10},"x2":{"datum":11.2},"y":{"datum":1.37,"axis":null}}},
{"transform":[{"filter":"datum.k=='h'"}],"mark":"rule","encoding":{"x":{"datum":0},"y":{"datum":1.37,"axis":null},"y2":{"datum":5.846}}},
{"transform":[{"filter":"datum.k=='s'"}],"mark":{"type":"point","shape":"square","filled":true,"opacity":1,"color":"#32b432"},"encoding":{"x":{"field":"md","type":"quantitative"},"size":{"field":"wt","type":"quantitative","scale":{"type":"pow","exponent":1.5,"domain":[0,100],"range":[0,225]},"legend":null}}},
{"transform":[{"filter":"datum.k=='T'"},{"fold":["lo","md","hi"],"as":["key","val"]},{"calculate":"datum.key=='md'?0.4:0","as":"h"},{"calculate":"datum.r-datum.h","as":"ya"},{"calculate":"datum.r+datum.h","as":"yb"}],"mark":{"type":"area","color":"black"},"encoding":{"x":{"field":"val","type":"quantitative"},"y":{"field":"ya","type":"quantitative","axis":null},"y2":{"field":"yb"}}},
{"transform":[{"filter":"datum.k=='t'||datum.k=='h'"}],"mark":{"type":"text","fontWeight":"bold","align":"center"},"encoding":{"x":{"datum":0},"text":{"field":"ci","type":"nominal"}}},
{"transform":[{"filter":"datum.k=='h'"}],"mark":{"type":"text","text":"Denosumab","fontSize":10},"encoding":{"x":{"datum":-1},"y":{"datum":7.77,"axis":null}}},
{"transform":[{"filter":"datum.k=='h'"}],"mark":{"type":"text","text":"Bisphosphonates","align":"left","fontSize":10},"encoding":{"x":{"datum":0.6},"y":{"datum":7.77,"axis":null}}}]}
]}
]
}
